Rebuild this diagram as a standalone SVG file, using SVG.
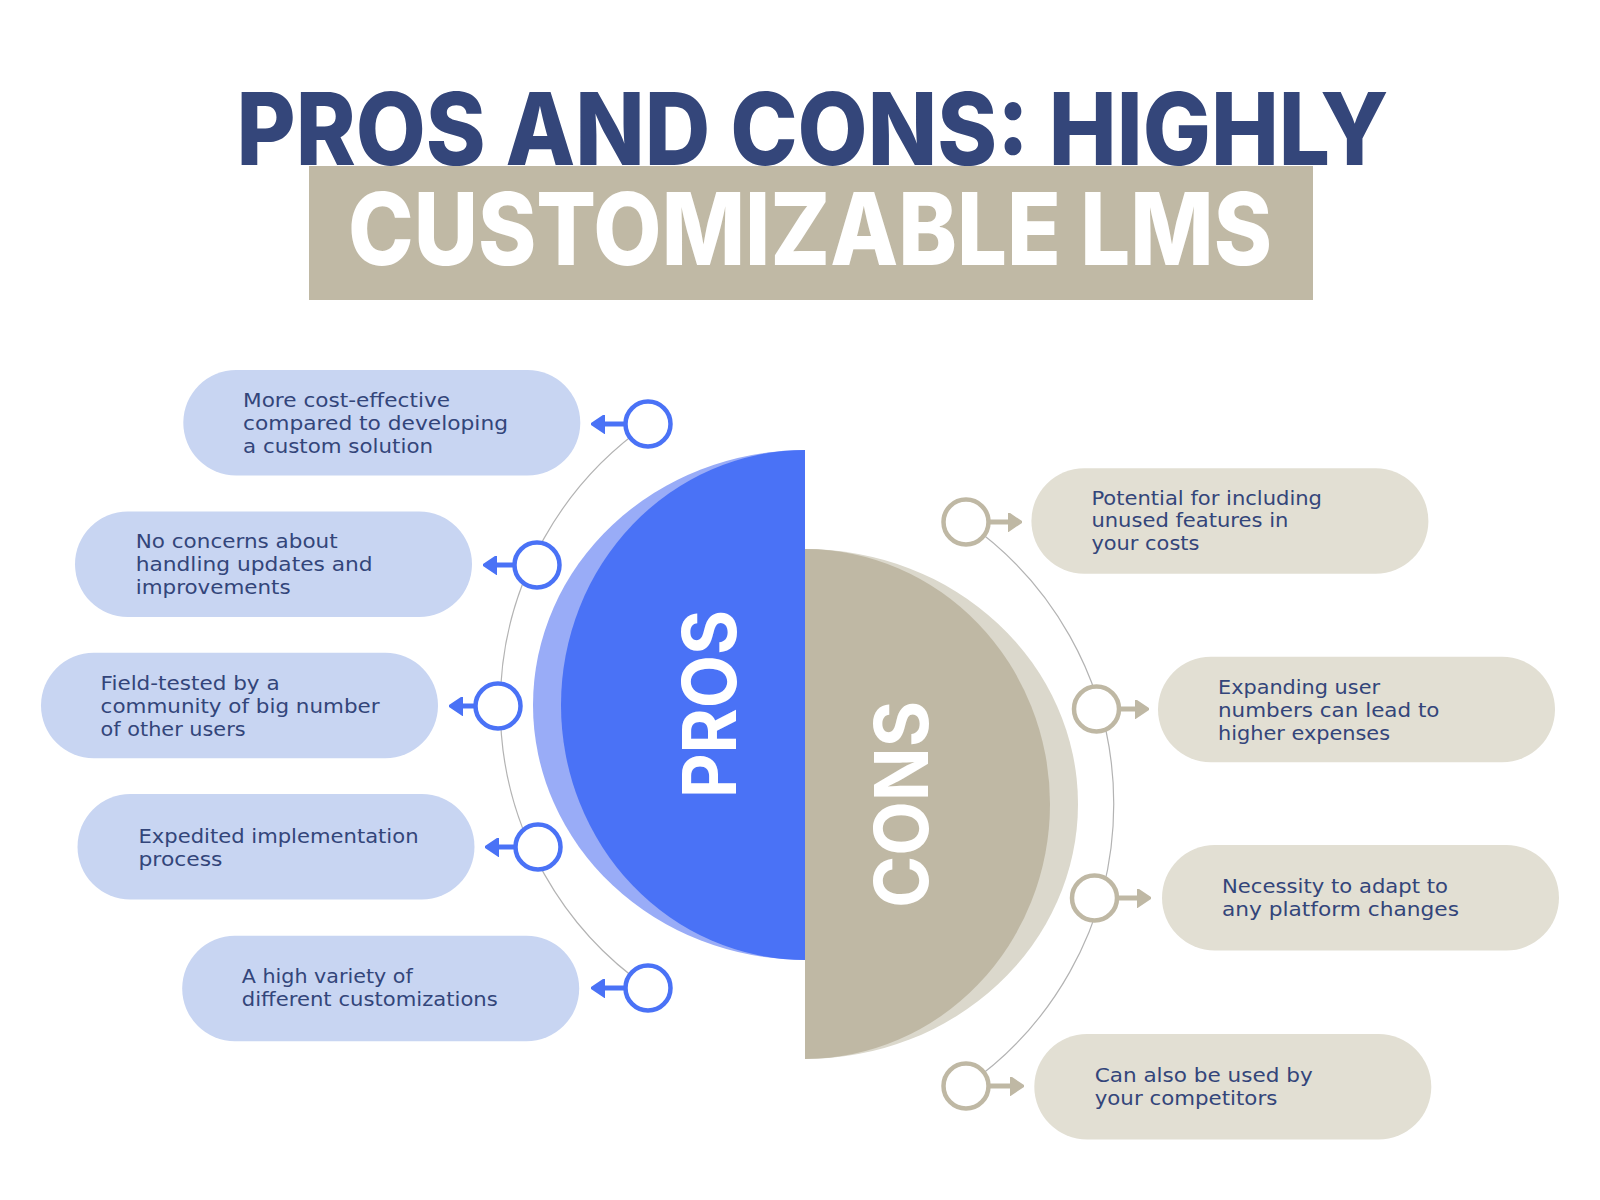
<svg xmlns="http://www.w3.org/2000/svg" width="1600" height="1200" viewBox="0 0 1600 1200">
<defs>
<style>
.title{font-family:Inter,"Liberation Sans",sans-serif;font-weight:800;font-size:100px}
.side{font-family:Inter,"Liberation Sans",sans-serif;font-weight:700;font-size:74px;fill:#ffffff}
.body{font-family:"DejaVu Sans","Liberation Sans",sans-serif;font-size:20px;fill:#33457A}
.ppill{fill:#C8D5F2}
.cpill{fill:#E2DFD3}
.arc{fill:none;stroke:#B3B3B3;stroke-width:1.2}
.pring{fill:#ffffff;stroke:#4A72F6;stroke-width:4.5}
.cring{fill:#ffffff;stroke:#BFB8A4;stroke-width:4.5}
.pline{stroke:#4A72F6;stroke-width:5;marker-end:url(#ahB)}
.cline{stroke:#BFB8A4;stroke-width:5;marker-end:url(#ahT)}
</style>
<marker id="ahB" viewBox="0 0 14 19" refX="4" refY="9.5" markerWidth="14" markerHeight="19" markerUnits="userSpaceOnUse" orient="auto">
<path d="M0,0 L14,9.5 L0,19 Z" fill="#4A72F6" stroke="#4A72F6" stroke-width="1.5" stroke-linejoin="round"/>
</marker>
<marker id="ahT" viewBox="0 0 14 19" refX="4" refY="9.5" markerWidth="14" markerHeight="19" markerUnits="userSpaceOnUse" orient="auto">
<path d="M0,0 L14,9.5 L0,19 Z" fill="#BFB8A4" stroke="#BFB8A4" stroke-width="1.5" stroke-linejoin="round"/>
</marker>
</defs>
<rect width="1600" height="1200" fill="#ffffff"/>

<g id="title">
<rect x="309" y="166" width="1004" height="134" fill="#C0B9A5"/>
<text class="title" x="236.5" y="165" fill="#34467A" textLength="1152" lengthAdjust="spacingAndGlyphs">PROS AND CONS: HIGHLY</text>
<text class="title" x="348" y="265" fill="#ffffff" textLength="924" lengthAdjust="spacingAndGlyphs">CUSTOMIZABLE LMS</text>
</g>

<g id="pros-core">
<path d="M805,450 A272,255 0 0 0 805,960 Z" fill="#99ACF7"/>
<path d="M805,450 A244,255 0 0 0 805,960 Z" fill="#4A72F6"/>
<text class="side" transform="translate(736,798) rotate(-90)" x="0" y="0" textLength="188" lengthAdjust="spacingAndGlyphs">PROS</text>
</g>

<g id="cons-core">
<path d="M805,549 A273,255 0 0 1 805,1059 Z" fill="#DBD8CC"/>
<path d="M805,549 A245,255 0 0 1 805,1059 Z" fill="#BFB8A4"/>
<text class="side" transform="translate(928,908) rotate(-90)" x="0" y="0" textLength="207" lengthAdjust="spacingAndGlyphs">CONS</text>
</g>

<g id="connectors">
<path class="arc" d="M648,424 A343,343 0 0 0 648,988"/>
<path class="arc" d="M966,522 A343,343 0 0 1 966,1086"/>
<line class="pline" x1="625" y1="424" x2="601" y2="424"/>
<line class="pline" x1="514" y1="565" x2="493" y2="565"/>
<line class="pline" x1="476" y1="706" x2="459" y2="706"/>
<line class="pline" x1="515" y1="847" x2="495" y2="847"/>
<line class="pline" x1="625" y1="988" x2="601" y2="988"/>
<line class="cline" x1="989" y1="522" x2="1012" y2="522"/>
<line class="cline" x1="1119" y1="709" x2="1139" y2="709"/>
<line class="cline" x1="1117" y1="898" x2="1141" y2="898"/>
<line class="cline" x1="989" y1="1086" x2="1014" y2="1086"/>
<circle class="pring" cx="648" cy="424" r="22.5"/>
<circle class="pring" cx="537" cy="565" r="22.5"/>
<circle class="pring" cx="498" cy="706" r="22.5"/>
<circle class="pring" cx="538" cy="847" r="22.5"/>
<circle class="pring" cx="648" cy="988" r="22.5"/>
<circle class="cring" cx="966" cy="522" r="22.5"/>
<circle class="cring" cx="1096.5" cy="709" r="22.5"/>
<circle class="cring" cx="1094.5" cy="898" r="22.5"/>
<circle class="cring" cx="966" cy="1086" r="22.5"/>
</g>

<g id="pro-1">
<rect class="ppill" x="183.3" y="370" width="397" height="105.5" rx="52.75"/>
<text class="body" x="243" y="407" textLength="207" lengthAdjust="spacingAndGlyphs">More cost-effective</text>
<text class="body" x="243" y="430" textLength="265" lengthAdjust="spacingAndGlyphs">compared to developing</text>
<text class="body" x="243" y="453" textLength="190" lengthAdjust="spacingAndGlyphs">a custom solution</text>
</g>
<g id="pro-2">
<rect class="ppill" x="75" y="511.5" width="397" height="105.5" rx="52.75"/>
<text class="body" x="135.7" y="548" textLength="202" lengthAdjust="spacingAndGlyphs">No concerns about</text>
<text class="body" x="135.7" y="571" textLength="237" lengthAdjust="spacingAndGlyphs">handling updates and</text>
<text class="body" x="135.7" y="594" textLength="155" lengthAdjust="spacingAndGlyphs">improvements</text>
</g>
<g id="pro-3">
<rect class="ppill" x="41" y="652.7" width="397" height="105.5" rx="52.75"/>
<text class="body" x="100.6" y="690" textLength="179" lengthAdjust="spacingAndGlyphs">Field-tested by a</text>
<text class="body" x="100.6" y="713" textLength="279" lengthAdjust="spacingAndGlyphs">community of big number</text>
<text class="body" x="100.6" y="736" textLength="145" lengthAdjust="spacingAndGlyphs">of other users</text>
</g>
<g id="pro-4">
<rect class="ppill" x="77.5" y="794" width="397" height="105.5" rx="52.75"/>
<text class="body" x="138.5" y="842.7" textLength="280" lengthAdjust="spacingAndGlyphs">Expedited implementation</text>
<text class="body" x="138.5" y="865.7" textLength="84" lengthAdjust="spacingAndGlyphs">process</text>
</g>
<g id="pro-5">
<rect class="ppill" x="182.2" y="935.7" width="397" height="105.5" rx="52.75"/>
<text class="body" x="241.8" y="983.3" textLength="171" lengthAdjust="spacingAndGlyphs">A high variety of</text>
<text class="body" x="241.8" y="1006.3" textLength="256" lengthAdjust="spacingAndGlyphs">different customizations</text>
</g>

<g id="con-1">
<rect class="cpill" x="1031.4" y="468.3" width="397" height="105.5" rx="52.75"/>
<text class="body" x="1091.4" y="504.5" textLength="230.6" lengthAdjust="spacingAndGlyphs">Potential for including</text>
<text class="body" x="1091.4" y="527" textLength="197" lengthAdjust="spacingAndGlyphs">unused features in</text>
<text class="body" x="1091.4" y="550" textLength="108" lengthAdjust="spacingAndGlyphs">your costs</text>
</g>
<g id="con-2">
<rect class="cpill" x="1158" y="656.7" width="397" height="105.5" rx="52.75"/>
<text class="body" x="1218" y="694.3" textLength="162" lengthAdjust="spacingAndGlyphs">Expanding user</text>
<text class="body" x="1218" y="717.3" textLength="221.5" lengthAdjust="spacingAndGlyphs">numbers can lead to</text>
<text class="body" x="1218" y="740.3" textLength="172" lengthAdjust="spacingAndGlyphs">higher expenses</text>
</g>
<g id="con-3">
<rect class="cpill" x="1162" y="845" width="397" height="105.5" rx="52.75"/>
<text class="body" x="1222" y="893.3" textLength="226" lengthAdjust="spacingAndGlyphs">Necessity to adapt to</text>
<text class="body" x="1222" y="916.3" textLength="237" lengthAdjust="spacingAndGlyphs">any platform changes</text>
</g>
<g id="con-4">
<rect class="cpill" x="1034.3" y="1034" width="397" height="105.5" rx="52.75"/>
<text class="body" x="1094.7" y="1081.7" textLength="218" lengthAdjust="spacingAndGlyphs">Can also be used by</text>
<text class="body" x="1094.7" y="1104.7" textLength="182.6" lengthAdjust="spacingAndGlyphs">your competitors</text>
</g>
</svg>
